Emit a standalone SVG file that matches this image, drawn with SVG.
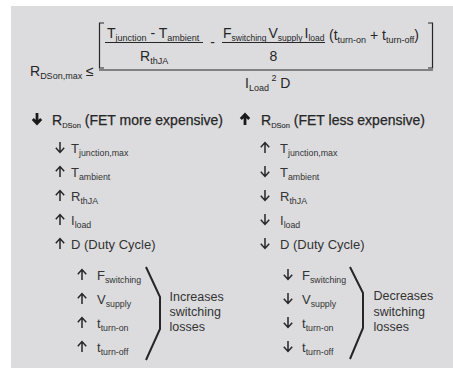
<svg xmlns="http://www.w3.org/2000/svg" width="453" height="368" viewBox="0 0 453 368">
<style>
text{font-family:"Liberation Sans",Arial,sans-serif;fill:#262626}
.f{font-size:14px}
.fs{font-size:9px}
.fs2{font-size:8.5px}
.h{font-size:14px;stroke:#262626;stroke-width:0.25}
.hs{font-size:7.5px;stroke-width:0.1}
.i{font-size:13px;fill:#333}
.is{font-size:8.8px}
.lab{font-size:12.5px;fill:#333}
.ln{stroke:#262626;stroke-width:1.2;fill:none}
.ar{stroke:#262626;stroke-width:1.5;fill:none;stroke-linecap:butt;stroke-linejoin:miter}
.arb{stroke:#1a1a1a;stroke-width:2.8;fill:none;stroke-linejoin:miter}
.br{stroke:#262626;stroke-width:2;fill:none;stroke-linejoin:miter}
</style>
<defs>
<symbol id="dn" viewBox="0 0 10 11" overflow="visible"><path class="ar" d="M5,0V10.4M0.8,5.8L5,10.4L9.2,5.8"/></symbol>
<symbol id="up" viewBox="0 0 10 11" overflow="visible"><path class="ar" d="M5,11V0.6M0.8,5.2L5,0.6L9.2,5.2"/></symbol>
<symbol id="dnb" viewBox="0 0 10 12" overflow="visible"><path class="arb" d="M5,0V10.5M0.8,6L5,10.5L9.2,6"/></symbol>
<symbol id="upb" viewBox="0 0 10 12" overflow="visible"><path class="arb" d="M5,12V1.5M0.8,6L5,1.5L9.2,6"/></symbol>
</defs>
<rect x="11" y="6" width="442" height="362" fill="#dcdcde"/>
<g id="formula">
<text class="f" x="30" y="76">R<tspan class="fs" dy="3">DSon,max</tspan><tspan dy="-3"> ≤</tspan></text>
<path class="ln" d="M104,23H99.5V68H104"/>
<path class="ln" d="M428,23H432.5V68H428"/>
<text class="f" x="107" y="38">T<tspan class="fs" dy="3">junction</tspan><tspan dy="-3"> - T</tspan><tspan class="fs" dy="3">ambient</tspan></text>
<line class="ln" x1="105" y1="42.5" x2="203" y2="42.5"/>
<text class="f" x="140" y="61">R<tspan class="fs" dy="3">thJA</tspan></text>
<text class="f" x="212.5" y="47" text-anchor="middle">-</text>
<text class="f" x="223" y="38">F<tspan class="fs2" dy="3">switching</tspan></text>
<text class="f" x="268.5" y="38">V<tspan class="fs2" dy="3">supply</tspan></text>
<text class="f" x="304.5" y="38">I<tspan class="fs2" dy="3">load</tspan></text>
<line class="ln" x1="222" y1="42.5" x2="325" y2="42.5"/>
<text class="f" x="273.5" y="61" text-anchor="middle">8</text>
<text class="f" x="329" y="40">(t<tspan class="fs" dy="3">turn-on</tspan><tspan dy="-3"> + t</tspan><tspan class="fs" dy="3">turn-off</tspan><tspan dy="-3">)</tspan></text>
<line class="ln" x1="99" y1="70" x2="433" y2="70"/>
<text class="f" x="245" y="88">I<tspan class="fs" dy="3">Load</tspan><tspan class="fs" dy="-10"> 2</tspan><tspan dy="7"> D</tspan></text>
</g>
<g id="left-header">
<use href="#dnb" x="32" y="113" width="10" height="12"/>
<text class="h" x="52" y="125">R<tspan class="hs" dy="3">DSon</tspan><tspan dy="-3"> (FET more expensive)</tspan></text>
</g>
<g id="right-header">
<use href="#upb" x="240" y="113" width="10" height="12"/>
<text class="h" x="261" y="125">R<tspan class="hs" dy="3">DSon</tspan><tspan dy="-3"> (FET less expensive)</tspan></text>
</g>
<g id="left-items">
<g id="l-tj"><use href="#dn" x="55" y="142" width="10" height="11"/><text class="i" x="71" y="153">T<tspan class="is" dy="3">junction,max</tspan></text></g>
<g id="l-ta"><use href="#up" x="55" y="166" width="10" height="11"/><text class="i" x="71" y="177">T<tspan class="is" dy="3">ambient</tspan></text></g>
<g id="l-rth"><use href="#up" x="55" y="190" width="10" height="11"/><text class="i" x="71" y="201">R<tspan class="is" dy="3">thJA</tspan></text></g>
<g id="l-il"><use href="#up" x="55" y="214" width="10" height="11"/><text class="i" x="71" y="225">I<tspan class="is" dy="3">load</tspan></text></g>
<g id="l-d"><use href="#up" x="55" y="238" width="10" height="11"/><text class="i" x="71" y="249">D (Duty Cycle)</text></g>
<g id="l-fs"><use href="#up" x="77" y="269" width="10" height="11"/><text class="i" x="97" y="280">F<tspan class="is" dy="3">switching</tspan></text></g>
<g id="l-vs"><use href="#up" x="77" y="293" width="10" height="11"/><text class="i" x="97" y="304">V<tspan class="is" dy="3">supply</tspan></text></g>
<g id="l-ton"><use href="#up" x="77" y="317" width="10" height="11"/><text class="i" x="97" y="328">t<tspan class="is" dy="3">turn-on</tspan></text></g>
<g id="l-toff"><use href="#up" x="77" y="341" width="10" height="11"/><text class="i" x="97" y="352">t<tspan class="is" dy="3">turn-off</tspan></text></g>
<g id="l-label"><text class="lab" x="169.5" y="301">Increases</text><text class="lab" x="169.5" y="316">switching</text><text class="lab" x="169.5" y="331">losses</text></g>
</g>
<g id="right-items">
<g id="r-tj"><use href="#up" x="260" y="142" width="10" height="11"/><text class="i" x="280" y="153">T<tspan class="is" dy="3">junction,max</tspan></text></g>
<g id="r-ta"><use href="#dn" x="260" y="166" width="10" height="11"/><text class="i" x="280" y="177">T<tspan class="is" dy="3">ambient</tspan></text></g>
<g id="r-rth"><use href="#dn" x="260" y="190" width="10" height="11"/><text class="i" x="280" y="201">R<tspan class="is" dy="3">thJA</tspan></text></g>
<g id="r-il"><use href="#dn" x="260" y="214" width="10" height="11"/><text class="i" x="280" y="225">I<tspan class="is" dy="3">load</tspan></text></g>
<g id="r-d"><use href="#dn" x="260" y="238" width="10" height="11"/><text class="i" x="280" y="249">D (Duty Cycle)</text></g>
<g id="r-fs"><use href="#dn" x="283" y="269" width="10" height="11"/><text class="i" x="302" y="280">F<tspan class="is" dy="3">switching</tspan></text></g>
<g id="r-vs"><use href="#dn" x="283" y="293" width="10" height="11"/><text class="i" x="302" y="304">V<tspan class="is" dy="3">supply</tspan></text></g>
<g id="r-ton"><use href="#dn" x="283" y="317" width="10" height="11"/><text class="i" x="302" y="328">t<tspan class="is" dy="3">turn-on</tspan></text></g>
<g id="r-toff"><use href="#dn" x="283" y="341" width="10" height="11"/><text class="i" x="302" y="352">t<tspan class="is" dy="3">turn-off</tspan></text></g>
<g id="r-label"><text class="lab" x="373.5" y="300">Decreases</text><text class="lab" x="373.5" y="315.5">switching</text><text class="lab" x="373.5" y="331">losses</text></g>
</g>
<g id="connectors">
<path class="br" d="M146,267L160,297V329L146,360"/>
<path class="br" d="M350,267L363,293V328L350,359"/>
</g>
</svg>
